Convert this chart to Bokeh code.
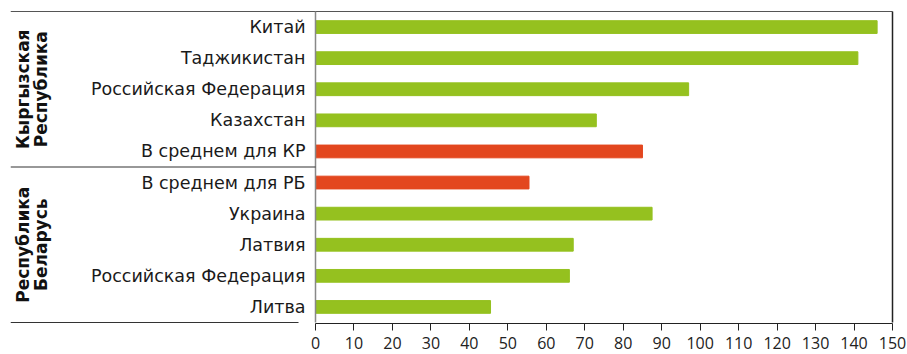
from math import pi
from bokeh.plotting import figure
from bokeh.models import Range1d, FixedTicker, ColumnDataSource
from bokeh.core.properties import value
from bokeh.embed import file_html
from bokeh.resources import INLINE

# ---- data (top to bottom) ----
categories = ["Китай", "Таджикистан", "Российская Федерация", "Казахстан", "В среднем для КР",
              "В среднем для РБ", "Украина", "Латвия", "Российская Федерация", "Литва"]
values = [146, 141, 97, 73, 85, 55.5, 87.5, 67, 66, 45.5]
is_average = [False, False, False, False, True, True, False, False, False, False]
group_line1 = ["Кыргызская", "Республика"]
group_line2 = ["Республика", "Беларусь"]
group_sizes = [5, 5]
x_ticks = list(range(0, 151, 10))

GREEN = "#95C11F"
RED = "#E3471F"
FONT = "DejaVu Sans"

# ---- layout (pixels) ----
W, H = 907, 354
FRAME_LEFT = 10        # frame left edge in the canvas
LEFT_PX = 305          # distance from frame left edge to value 0
PLOT_PX = 577          # pixels from value 0 to value 150
ROW_PX = 31.1          # height of one category row
FRAME_TOP, FRAME_BOTTOM_BORDER = 10, 31
XMAX = 150.0

n = len(categories)
ppu = PLOT_PX / XMAX
frame_h = H - FRAME_TOP - FRAME_BOTTOM_BORDER
pad_y = (frame_h - ROW_PX * n) / 2.0 / ROW_PX
x_start = -LEFT_PX / ppu
x_end = XMAX + 2.0 / ppu
frame_w = LEFT_PX + PLOT_PX + 2

p = figure(width=W, height=H, output_backend="svg", toolbar_location=None,
           x_range=Range1d(x_start, x_end), y_range=Range1d(-pad_y, n + pad_y),
           min_border_left=FRAME_LEFT, min_border_right=W - FRAME_LEFT - frame_w,
           min_border_top=FRAME_TOP, min_border_bottom=FRAME_BOTTOM_BORDER)
p.background_fill_color = "white"
p.border_fill_color = "white"
p.outline_line_color = None
p.xgrid.visible = False
p.ygrid.visible = False
p.yaxis.visible = False

ypos = [n - 1 - i + 0.5 for i in range(n)]
colors = [RED if a else GREEN for a in is_average]

src = ColumnDataSource(dict(y=ypos, right=values, color=colors, label=categories))
p.hbar(y="y", left=0, right="right", height=0.41, color="color", source=src)

# category labels
p.text(x=0, y="y", text="label", source=src, x_offset=-10, text_align="right",
       text_baseline="middle", text_font=value(FONT), text_font_size="17.5px",
       text_color="#1a1a1a")

# frame lines: top line, right border, value axis line
p.segment(x0=[x_start], y0=[n], x1=[XMAX], y1=[n], line_color="#555555", line_width=1.2)
p.segment(x0=[XMAX], y0=[0], x1=[XMAX], y1=[n], line_color="#222222", line_width=1.5)
p.segment(x0=[0], y0=[0], x1=[0], y1=[n], line_color="#888888", line_width=1.5)

# group separators
bounds = [0]
for s in reversed(group_sizes):
    bounds.append(bounds[-1] + s)
mid = bounds[1:-1]
p.segment(x0=[x_start] * len(mid), y0=mid, x1=[0] * len(mid), y1=mid,
          line_color="#333333", line_width=1.2)
p.segment(x0=[x_start], y0=[0], x1=[-17 / ppu], y1=[0], line_color="#333333", line_width=1.2)

# group labels (rotated)
centers = []
top = n
for s in group_sizes:
    centers.append(top - s / 2.0)
    top -= s
p.text(x=[-293 / ppu] * len(centers), y=centers, text=group_line1, angle=pi / 2,
       text_align="center", text_baseline="middle", text_font=value(FONT),
       text_font_style="bold", text_font_size="17px", text_color="#111111")
p.text(x=[-275 / ppu] * len(centers), y=centers, text=group_line2, angle=pi / 2,
       text_align="center", text_baseline="middle", text_font=value(FONT),
       text_font_style="bold", text_font_size="17px", text_color="#111111")

# value axis
xa = p.xaxis[0]
xa.ticker = FixedTicker(ticks=x_ticks)
xa.bounds = (0, XMAX)
xa.major_tick_out = 7
xa.major_tick_in = 0
xa.minor_tick_out = 0
xa.minor_tick_in = 0
xa.axis_line_color = "#222222"
xa.axis_line_width = 1.2
xa.major_tick_line_color = "#222222"
xa.major_label_text_font = "Open Sans"
xa.major_label_text_font_size = "16px"
xa.major_label_text_color = "#222222"
xa.major_label_standoff = 6

open("out.html", "w").write(file_html(p, INLINE))
